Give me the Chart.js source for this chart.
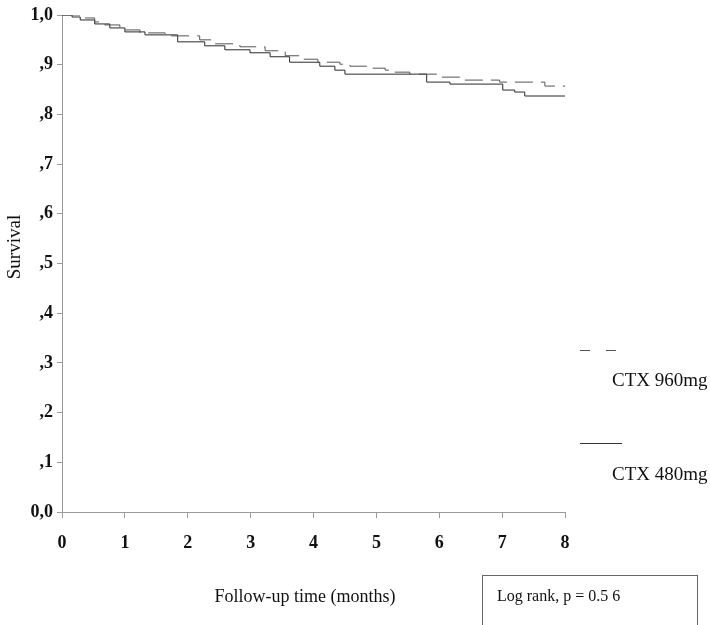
<!DOCTYPE html>
<html>
<head>
<meta charset="utf-8">
<script src="https://cdn.jsdelivr.net/npm/chart.js@4"></script>
<style>
  html, body { margin: 0; padding: 0; background: #fff; }
  #wrap { width: 710px; height: 625px; position: relative; }
</style>
</head>
<body>
<div id="wrap"><canvas id="kmChart" width="710" height="625"></canvas></div>
<script>
// Kaplan-Meier curves (months, survival)
const time960 = [0, 0.37, 0.52, 0.68, 0.92, 1.24, 1.64, 2.19, 2.43, 2.83, 3.23, 3.55, 3.78, 4.07, 4.42, 4.58, 4.90, 5.14, 5.29, 5.53, 6.01, 6.36, 6.96, 7.68, 8.0];
const surv960 = [1.0, 0.994, 0.986, 0.980, 0.970, 0.964, 0.958, 0.950, 0.942, 0.936, 0.928, 0.918, 0.911, 0.905, 0.901, 0.897, 0.893, 0.889, 0.885, 0.881, 0.875, 0.869, 0.865, 0.857, 0.857];

const time480 = [0, 0.16, 0.29, 0.52, 0.76, 1.0, 1.32, 1.84, 2.27, 2.59, 2.99, 3.31, 3.62, 4.10, 4.34, 4.50, 5.80, 6.17, 7.01, 7.20, 7.36, 8.0];
const surv480 = [1.0, 0.996, 0.990, 0.982, 0.974, 0.966, 0.960, 0.946, 0.938, 0.930, 0.924, 0.916, 0.905, 0.897, 0.889, 0.881, 0.865, 0.861, 0.849, 0.845, 0.837, 0.837];

const xTicks = [0, 1, 2, 3, 4, 5, 6, 7, 8];
const yTicks = [0, 0.1, 0.2, 0.3, 0.4, 0.5, 0.6, 0.7, 0.8, 0.9, 1.0];
const yTickLabels = ["0,0", ",1", ",2", ",3", ",4", ",5", ",6", ",7", ",8", ",9", "1,0"];

const seriesNames = ["CTX 960mg", "CTX 480mg"];
const xTitle = "Follow-up time (months)";
const yTitle = "Survival";
const testNote = "Log rank, p = 0.5 6";

const serif = "'Liberation Serif', 'DejaVu Serif', serif";
const axisGray = "#9a9a9a";

function toPoints(ts, ss) {
  return ts.map((t, i) => ({ x: t, y: ss[i] }));
}

const annotations = {
  id: "annotations",
  afterDraw(chart) {
    const ctx = chart.ctx;
    ctx.save();

    // y title (rotated)
    ctx.fillStyle = "#111";
    ctx.font = "19px " + serif;
    ctx.textAlign = "center";
    ctx.textBaseline = "middle";
    ctx.save();
    ctx.translate(15, 247);
    ctx.rotate(-Math.PI / 2);
    ctx.fillText(yTitle, 0, 0);
    ctx.restore();

    // x title
    ctx.font = "18px " + serif;
    ctx.fillText(xTitle, 305, 597);

    // legend
    const lx0 = 580, lx1 = 622;
    ctx.strokeStyle = "#555";
    ctx.lineWidth = 1;
    ctx.setLineDash([10, 16]);
    ctx.beginPath();
    ctx.moveTo(lx0, 350.5);
    ctx.lineTo(lx1, 350.5);
    ctx.stroke();
    ctx.setLineDash([]);
    ctx.strokeStyle = "#333";
    ctx.beginPath();
    ctx.moveTo(lx0, 443.5);
    ctx.lineTo(lx1, 443.5);
    ctx.stroke();

    ctx.font = "19px " + serif;
    ctx.textAlign = "left";
    ctx.fillStyle = "#111";
    ctx.fillText(seriesNames[0], 612, 381);
    ctx.fillText(seriesNames[1], 612, 475);

    // log rank box
    ctx.strokeStyle = "#666";
    ctx.strokeRect(482.5, 575.5, 215, 60);
    ctx.font = "16px " + serif;
    ctx.fillText(testNote, 497, 597);

    ctx.restore();
  }
};

const ctx = document.getElementById("kmChart").getContext("2d");
const kmChart = new Chart(ctx, {
  type: "line",
  data: {
    datasets: [
      {
        label: seriesNames[0],
        data: toPoints(time960, surv960),
        borderColor: "#555",
        borderWidth: 1,
        borderDash: [18, 8],
        stepped: true,
        pointRadius: 0,
        fill: false
      },
      {
        label: seriesNames[1],
        data: toPoints(time480, surv480),
        borderColor: "#2a2a2a",
        borderWidth: 1,
        stepped: true,
        pointRadius: 0,
        fill: false
      }
    ]
  },
  options: {
    responsive: false,
    animation: false,
    layout: { padding: { left: 0, top: 15, right: 145, bottom: 0 } },
    plugins: {
      legend: { display: false },
      tooltip: { enabled: false }
    },
    scales: {
      x: {
        type: "linear",
        min: 0,
        max: 8,
        afterBuildTicks: s => { s.ticks = xTicks.map(v => ({ value: v })); },
        afterFit: s => { s.height = 113; },
        border: { color: axisGray, width: 1 },
        grid: { drawOnChartArea: false, drawTicks: true, tickLength: 6, color: axisGray },
        ticks: {
          padding: 15,
          color: "#111",
          font: { family: serif, size: 18, weight: "bold" },
          maxRotation: 0,
          callback: v => String(v)
        }
      },
      y: {
        type: "linear",
        min: 0,
        max: 1,
        afterBuildTicks: s => { s.ticks = yTicks.map(v => ({ value: v })); },
        afterFit: s => { s.width = 62; },
        border: { color: axisGray, width: 1 },
        grid: { drawOnChartArea: false, drawTicks: true, tickLength: 5, color: axisGray },
        ticks: {
          padding: 4,
          color: "#111",
          font: { family: serif, size: 18, weight: "bold" },
          callback: v => {
            const i = yTicks.findIndex(t => Math.abs(t - v) < 1e-6);
            return i >= 0 ? yTickLabels[i] : "";
          }
        }
      }
    }
  },
  plugins: [annotations]
});
</script>
</body>
</html>
